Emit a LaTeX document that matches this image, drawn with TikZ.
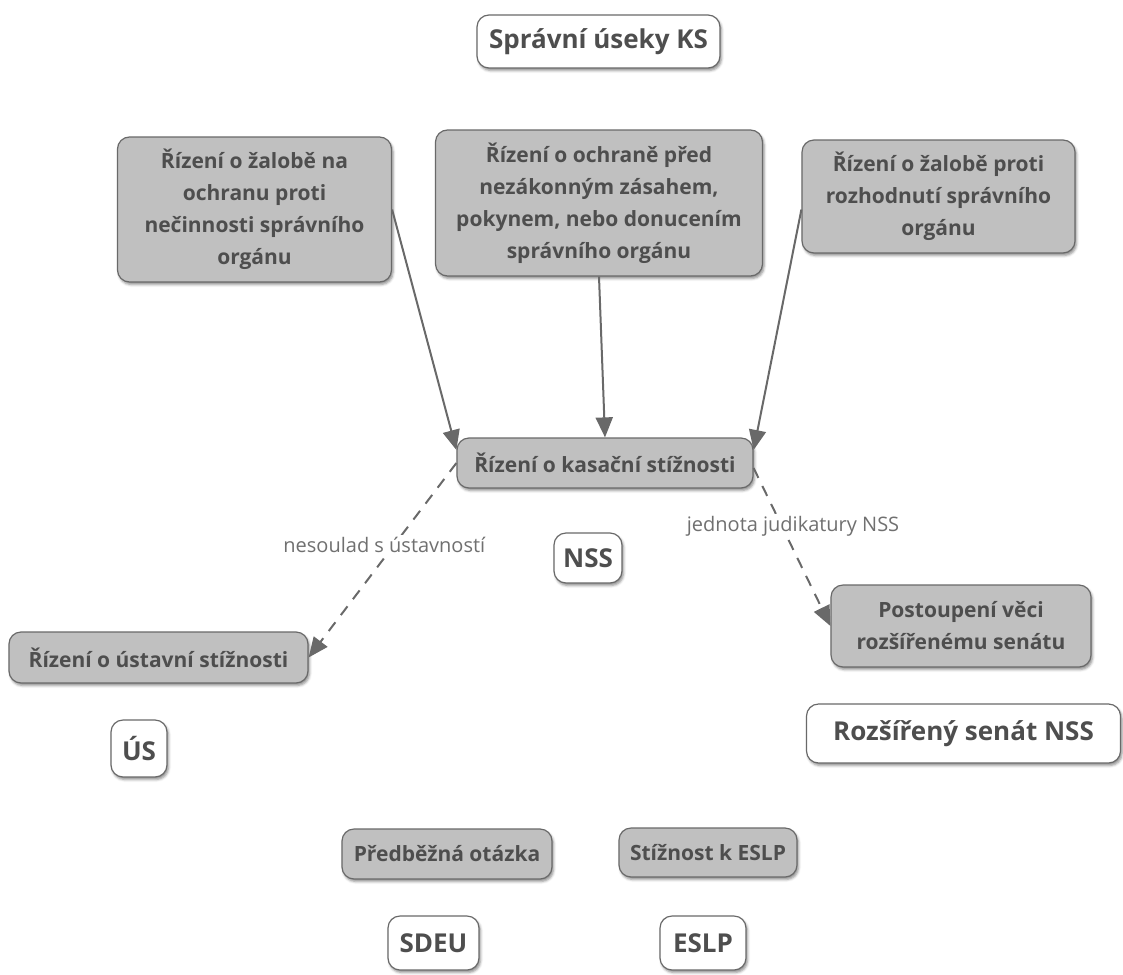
\documentclass[tikz,border=0pt]{standalone}
\usepackage{fontspec}
\setmainfont{Open Sans}
\usepackage{tikz}
\tikzset{every picture/.style={line width=0.75pt}}
\usepackage{color}
\usetikzlibrary{shadows.blur}
\usetikzlibrary{arrows.meta}
\usetikzlibrary{calc}

\definecolor{boxgray}{RGB}{192,192,192}
\definecolor{linegray}{RGB}{105,105,105}
\definecolor{textgray}{RGB}{78,78,78}
\definecolor{lblgray}{RGB}{112,112,112}

\tikzset{
  shadowed/.style={blur shadow={shadow xshift=1.5pt, shadow yshift=-2.5pt, shadow blur radius=2.5pt, shadow opacity=45}},
  graybox/.style={draw=linegray, line width=1.2pt, fill=boxgray, rounded corners=12, shadowed, text=textgray, align=center, inner sep=0pt, font=\bfseries\fontsize{21}{32}\selectfont},
  whitebox/.style={draw=linegray, line width=1.2pt, fill=white, rounded corners=12, shadowed, text=textgray, align=center, inner sep=0pt, font=\bfseries\fontsize{26}{30}\selectfont},
  flow/.style={draw=linegray, line width=2pt, -{Triangle[length=20pt,width=17pt]}},
  flowdash/.style={flow, dash pattern=on 11pt off 9pt},
  lbl/.style={fill=white, text=lblgray, inner sep=2pt, font=\fontsize{20}{24}\selectfont}
}

\begin{document}
\begin{tikzpicture}[x=1pt,y=1pt,yscale=-1,xscale=1]
\useasboundingbox (0,0) rectangle (1123,974);

% Text Node
\node [whitebox, minimum width=243, minimum height=53] (useky) at (598.5,41.5) {Správní úseky KS};
% Text Node
\node [graybox, minimum width=274, minimum height=145] (necinnost) at (254.5,209.5) {Řízení o žalobě na\\ochranu proti\\nečinnosti správního\\orgánu};
% Text Node
\node [graybox, minimum width=327, minimum height=146] (zasah) at (599,203) {Řízení o ochraně před\\nezákonným zásahem,\\pokynem, nebo donucením\\správního orgánu};
% Text Node
\node [graybox, minimum width=273, minimum height=113] (rozhodnuti) at (938.5,196.5) {Řízení o žalobě proti\\rozhodnutí správního\\orgánu};
% Text Node
\node [graybox, minimum width=296, minimum height=50] (kasacni) at (605,463) {Řízení o kasační stížnosti};
% Text Node
\node [whitebox, minimum width=68, minimum height=50] (nss) at (588,558) {NSS};
% Text Node
\node [graybox, minimum width=299, minimum height=51] (ustavni) at (158.5,657.5) {Řízení o ústavní stížnosti};
% Text Node
\node [whitebox, minimum width=56, minimum height=57] (us) at (139,748.5) {ÚS};
% Text Node
\node [graybox, minimum width=260, minimum height=82] (postoupeni) at (961,626) {Postoupení věci\\rozšířenému senátu};
% Text Node
\node [whitebox, minimum width=314, minimum height=59] (senat) at (963.5,733.5) {Rozšířený senát NSS};
% Text Node
\node [graybox, minimum width=210, minimum height=50] (otazka) at (447,854) {Předběžná otázka};
% Text Node
\node [graybox, minimum width=178, minimum height=49] (stiznost) at (708,852.5) {Stížnost k ESLP};
% Text Node
\node [whitebox, minimum width=91, minimum height=54] (sdeu) at (433.5,943) {SDEU};
% Text Node
\node [whitebox, minimum width=86, minimum height=54] (eslp) at (703,943) {ESLP};

%Straight Lines
\draw [flow] (necinnost.east) -- ($(kasacni.west)+(0,-13)$);
%Straight Lines
\draw [flow] (zasah.south) -- (kasacni.north);
%Straight Lines
\draw [flow] ($(rozhodnuti.west)+(0,13)$) -- ($(kasacni.east)+(0,-13)$);
%Straight Lines
\draw [flowdash] (kasacni.west) -- node [lbl, pos=0.42, xshift=-10pt] {nesoulad s ústavností} (ustavni.east);
%Straight Lines
\draw [flowdash] ($(kasacni.east)+(0,5)$) -- node [lbl, pos=0.37, xshift=11pt] {jednota judikatury NSS} (postoupeni.west);
\end{tikzpicture}
\end{document}
